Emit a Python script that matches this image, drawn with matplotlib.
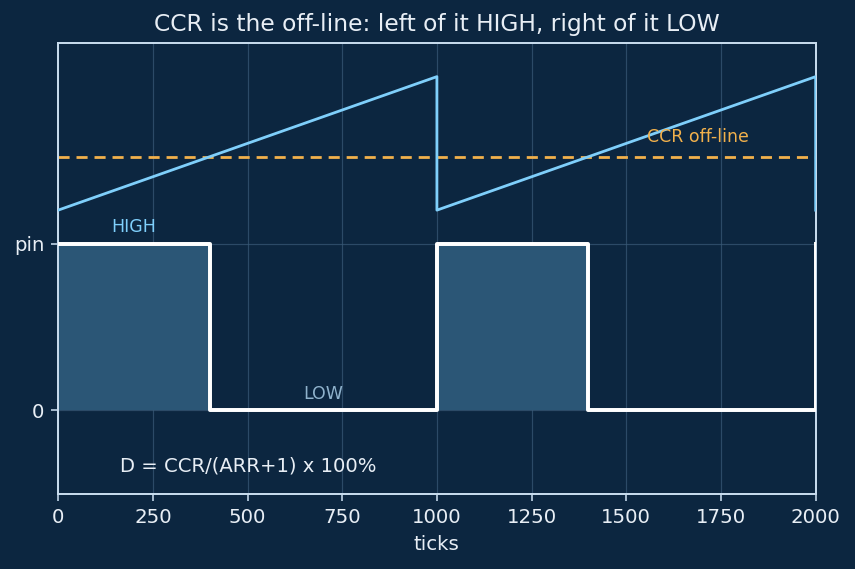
import matplotlib
matplotlib.use("Agg")
import matplotlib.pyplot as plt

# data
saw_t = [0, 1000, 1000, 2000, 2000]
saw_v = [1.2, 2.0, 1.2, 2.0, 1.2]
pwm_t = [0, 400, 400, 1000, 1000, 1400, 1400, 2000, 2000]
pwm_v = [1, 1, 0, 0, 1, 1, 0, 0, 1]
ccr_level = 1.52
high_spans = [(0, 400), (1000, 1400)]
xticks = [0, 250, 500, 750, 1000, 1250, 1500, 1750, 2000]
yticks = [0, 1]
ytick_labels = ["0", "pin"]

BG = "#0c2640"
FG = "#e8eef5"
SPINE = "#c8dcee"

fig = plt.figure(figsize=(6, 3.993), dpi=142.5, facecolor=BG)
ax = fig.add_axes([0.068, 0.132, 0.886, 0.792])
ax.set_facecolor(BG)

for a, b in high_spans:
    ax.fill_between([a, b], [0, 0], [1, 1], color="#2b5676", lw=0, zorder=1)

ax.axhline(ccr_level, color="#f2b14c", ls=(0, (4, 2.5)), lw=1.4, zorder=2)
ax.plot(saw_t, saw_v, color="#7fcffb", lw=1.4, zorder=3)
ax.plot(pwm_t, pwm_v, color="white", lw=2.0, zorder=4)

ax.text(200, 1.1, "HIGH", color="#7fcffb", fontsize=8.8, ha="center", va="center")
ax.text(700, 0.1, "LOW", color="#8fb2cc", fontsize=8.8, ha="center", va="center")
ax.text(1690, 1.64, "CCR off-line", color="#f2b14c", fontsize=8.8, ha="center", va="center")
ax.text(163, -0.33, "D = CCR/(ARR+1) x 100%", color=FG, fontsize=9.9, ha="left", va="center")

ax.set_xlim(0, 2000)
ax.set_ylim(-0.5, 2.2)
ax.set_xticks(xticks)
ax.set_yticks(yticks)
ax.set_yticklabels(ytick_labels)
ax.grid(True, color="#3a5a78", lw=0.6, alpha=0.7, zorder=0)
ax.set_axisbelow(True)
for s in ax.spines.values():
    s.set_color(SPINE)
    s.set_linewidth(1.0)
ax.tick_params(colors=SPINE, labelcolor=FG, labelsize=10)
ax.set_xlabel("ticks", color=FG, fontsize=10)
ax.set_title("CCR is the off-line: left of it HIGH, right of it LOW", color=FG, fontsize=11.8)

fig.savefig("out.png", dpi=142.5, facecolor=BG)
